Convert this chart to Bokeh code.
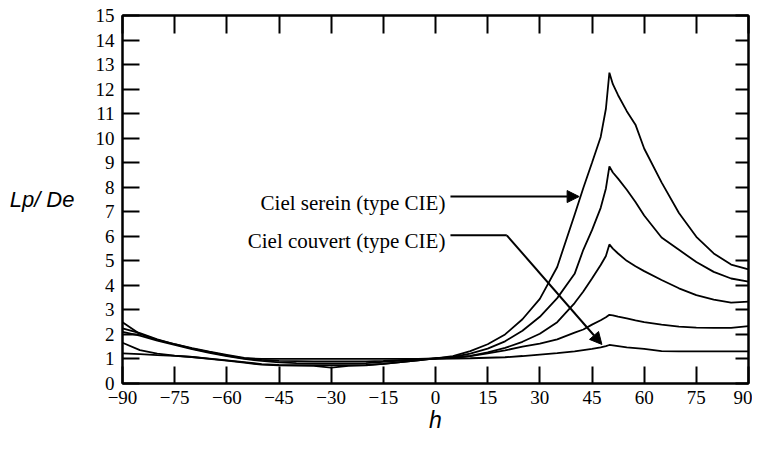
from bokeh.plotting import figure
from bokeh.models import (FixedTicker, LinearAxis, Label, Arrow, NormalHead,
                          CustomJSTickFormatter, Range1d)
from bokeh.embed import file_html
from bokeh.resources import INLINE

# ---------------- data ----------------
h = [-90, -85, -80, -75, -70, -65, -60, -55, -50, -45, -40, -35, -30, -25, -20,
     -15, -10, -5, 0, 5, 10, 15, 20, 25, 30, 35, 40,
     42.5, 45, 47.5, 49, 50, 51, 52.5, 55, 57.5, 60,
     65, 70, 75, 80, 85, 90]

curve_a = [2.5, 2.02, 1.78, 1.6, 1.44, 1.3, 1.17, 1.04, 1.0, 1.0, 1.0, 1.0, 1.0, 1.0, 1.0,
           1.0, 1.0, 1.0, 1.02, 1.12, 1.32, 1.6, 2.0, 2.62, 3.45, 4.75, 6.88,
           7.97, 9.0, 10.05, 11.2, 12.67, 12.2, 11.75, 11.1, 10.55, 9.58,
           8.2, 6.95, 5.98, 5.3, 4.85, 4.65]
curve_b = [2.25, 2.05, 1.8, 1.6, 1.42, 1.28, 1.14, 1.02, 0.96, 0.92, 0.91, 0.9, 0.9, 0.9, 0.9,
           0.92, 0.95, 0.98, 1.02, 1.08, 1.22, 1.42, 1.72, 2.15, 2.72, 3.48, 4.47,
           5.45, 6.25, 7.16, 7.95, 8.85, 8.6, 8.35, 7.9, 7.4, 6.85,
           5.95, 5.45, 4.95, 4.55, 4.28, 4.15]
curve_c = [2.1, 1.95, 1.75, 1.57, 1.4, 1.25, 1.12, 1.0, 0.92, 0.86, 0.83, 0.82, 0.82, 0.82, 0.83,
           0.88, 0.93, 0.97, 1.02, 1.05, 1.13, 1.27, 1.45, 1.7, 2.03, 2.5, 3.28,
           3.75, 4.28, 4.83, 5.2, 5.67, 5.5, 5.3, 5.0, 4.78, 4.58,
           4.22, 3.88, 3.6, 3.42, 3.3, 3.34]
curve_d = [1.66, 1.36, 1.22, 1.14, 1.08, 1.0, 0.93, 0.85, 0.77, 0.74, 0.73, 0.72, 0.65, 0.72, 0.74,
           0.8, 0.87, 0.94, 1.02, 1.04, 1.12, 1.23, 1.35, 1.5, 1.63, 1.8, 2.07,
           2.2, 2.4, 2.58, 2.7, 2.8, 2.78, 2.73, 2.65, 2.57, 2.5,
           2.4, 2.32, 2.28, 2.27, 2.27, 2.34]
curve_e = [1.23, 1.2, 1.16, 1.13, 1.08, 1.01, 0.94, 0.87, 0.79, 0.76, 0.75, 0.75, 0.75, 0.75, 0.76,
           0.8, 0.87, 0.94, 1.02, 1.02, 1.03, 1.05, 1.07, 1.12, 1.18, 1.24, 1.31,
           1.36, 1.41, 1.47, 1.52, 1.57, 1.55, 1.52, 1.47, 1.44, 1.41,
           1.32, 1.31, 1.31, 1.31, 1.31, 1.31]
curves = [curve_a, curve_b, curve_c, curve_d, curve_e]

x_ticks = [-90, -75, -60, -45, -30, -15, 0, 15, 30, 45, 60, 75, 90]
x_tick_labels = ["\u221290", "\u221275", "\u221260", "\u221245", "\u221230", "\u221215",
                 "0", "15", "30", "45", "60", "75", "90"]
y_ticks = list(range(0, 16))

y_label = "Lp/ De"
x_label = "h"

label_serein = "Ciel serein (type CIE)"
label_couvert = "Ciel couvert (type CIE)"
# annotation anchor points (data units)
serein_text_pos = (2.85, 7.36)
couvert_text_pos = (2.85, 5.80)
serein_arrow_x = [4.3, 41.3]
serein_arrow_y = [7.62, 7.62]
couvert_path_x = [4.3, 20.5, 47.85]
couvert_path_y = [6.04, 6.04, 1.59]

# ---------------- figure ----------------
p = figure(width=752, height=435, x_range=Range1d(-90, 90), y_range=Range1d(0, 15),
           output_backend="svg", toolbar_location=None,
           min_border_left=122, min_border_right=4, min_border_top=15, min_border_bottom=42)
p.xgrid.visible = False
p.ygrid.visible = False
p.outline_line_color = "black"
p.outline_line_width = 2
p.outline_line_alpha = 1.0
p.background_fill_color = "white"
p.border_fill_color = "white"

TICK_FONT = "Liberation Serif"

def style_axis(ax, tick_in):
    ax.axis_line_width = 2
    ax.axis_line_color = "black"
    ax.major_tick_in = tick_in
    ax.major_tick_out = 0
    ax.major_tick_line_width = 2
    ax.major_tick_line_color = "black"
    ax.minor_tick_line_color = None
    ax.major_label_text_font = TICK_FONT
    ax.major_label_text_font_size = "19px"
    ax.major_label_text_color = "black"

xa = p.xaxis[0]
xa.ticker = FixedTicker(ticks=x_ticks)
xa.major_label_overrides = dict(zip(x_ticks, x_tick_labels))
style_axis(xa, 17)
xa.major_label_standoff = 7
xa.axis_label = x_label
xa.axis_label_text_font = "Liberation Sans"
xa.axis_label_text_font_style = "italic"
xa.axis_label_text_font_size = "23px"
xa.axis_label_text_color = "black"
xa.axis_label_standoff = 0
xa.axis_label_text_align = "left"

ya = p.yaxis[0]
ya.ticker = FixedTicker(ticks=y_ticks)
style_axis(ya, 17)
ya.major_label_standoff = 8
ya.axis_label = y_label
ya.axis_label_orientation = "horizontal"
ya.axis_label_text_font = "Liberation Sans"
ya.axis_label_text_font_style = "italic"
ya.axis_label_text_font_size = "22px"
ya.axis_label_text_color = "black"
ya.axis_label_standoff = 18

empty = CustomJSTickFormatter(code="return '';")
top = LinearAxis(ticker=FixedTicker(ticks=x_ticks), formatter=empty)
style_axis(top, 18)
top.major_label_standoff = 0
p.add_layout(top, "above")
right = LinearAxis(ticker=FixedTicker(ticks=y_ticks), formatter=empty)
style_axis(right, 13)
right.major_label_standoff = 0
p.add_layout(right, "right")

for c in curves:
    p.line(h, c, line_color="black", line_width=1.8)

# annotations
p.add_layout(Label(x=serein_text_pos[0], y=serein_text_pos[1], text=label_serein,
                   text_align="right", text_baseline="alphabetic",
                   text_font="Liberation Serif", text_font_size="21px", text_color="black"))
p.add_layout(Label(x=couvert_text_pos[0], y=couvert_text_pos[1], text=label_couvert,
                   text_align="right", text_baseline="alphabetic",
                   text_font="Liberation Serif", text_font_size="21px", text_color="black"))

p.add_layout(Arrow(x_start=serein_arrow_x[0], y_start=serein_arrow_y[0],
                   x_end=serein_arrow_x[1], y_end=serein_arrow_y[1],
                   line_width=2, line_color="black",
                   end=NormalHead(size=12, fill_color="black", line_color="black")))
p.line(couvert_path_x[:2], couvert_path_y[:2], line_color="black", line_width=2)
p.add_layout(Arrow(x_start=couvert_path_x[1], y_start=couvert_path_y[1],
                   x_end=couvert_path_x[2], y_end=couvert_path_y[2],
                   line_width=2, line_color="black",
                   end=NormalHead(size=12, fill_color="black", line_color="black")))

open("out.html", "w").write(file_html(p, INLINE))
